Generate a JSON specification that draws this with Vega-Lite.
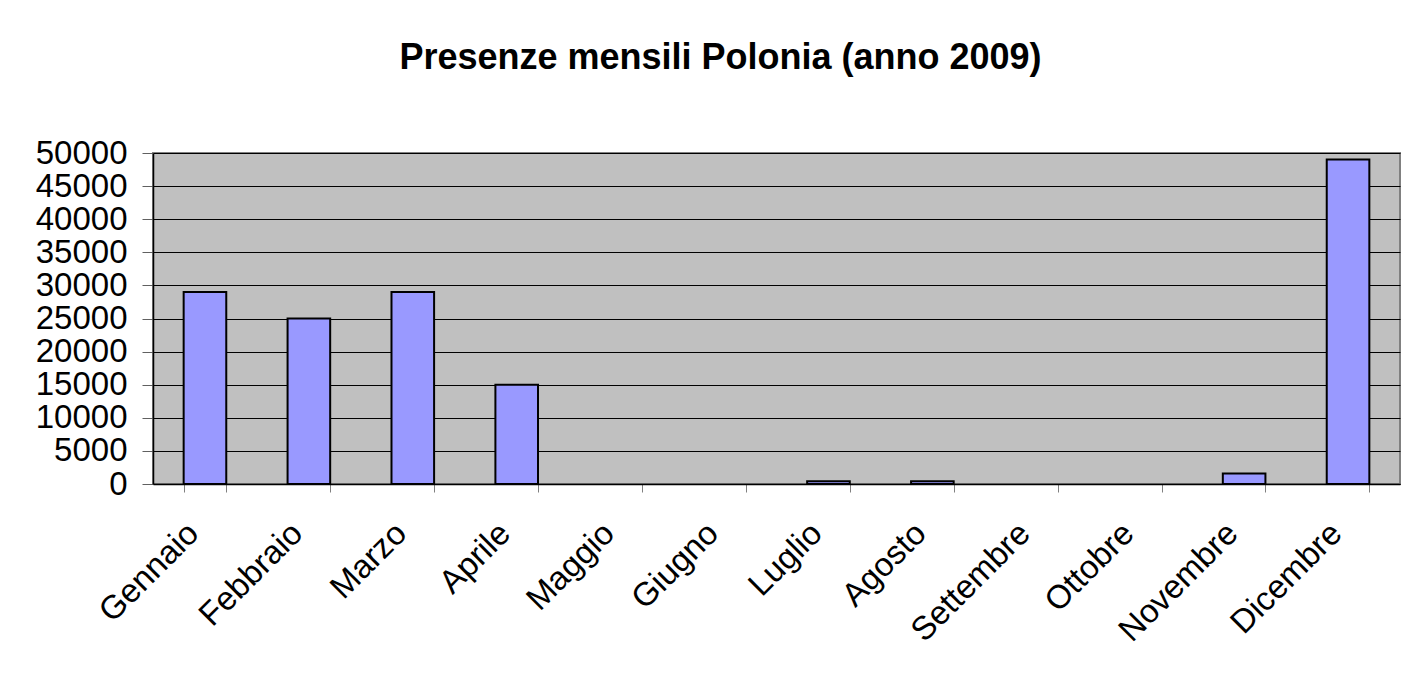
{
  "$schema": "https://vega.github.io/schema/vega-lite/v6.json",
  "autosize": "none",
  "width": 1247,
  "height": 331,
  "padding": {"left": 153, "top": 153, "right": 4, "bottom": 191},
  "background": "white",
  "title": {
    "text": "Presenze mensili Polonia (anno 2009)",
    "font": "Liberation Sans",
    "fontSize": 36,
    "fontWeight": "bold",
    "color": "black",
    "anchor": "middle",
    "baseline": "alphabetic",
    "offset": 32,
    "dx": -56
  },
  "data": {
    "values": [
      {"mese": "Gennaio", "presenze": 29000},
      {"mese": "Febbraio", "presenze": 25000},
      {"mese": "Marzo", "presenze": 29000},
      {"mese": "Aprile", "presenze": 15000},
      {"mese": "Maggio", "presenze": 0},
      {"mese": "Giugno", "presenze": 0},
      {"mese": "Luglio", "presenze": 400},
      {"mese": "Agosto", "presenze": 400},
      {"mese": "Settembre", "presenze": 0},
      {"mese": "Ottobre", "presenze": 0},
      {"mese": "Novembre", "presenze": 1600},
      {"mese": "Dicembre", "presenze": 49000}
    ]
  },
  "mark": {"type": "bar", "color": "#9999FF", "stroke": "black", "strokeWidth": 2},
  "encoding": {
    "x": {
      "field": "mese",
      "type": "nominal",
      "sort": null,
      "scale": {"paddingInner": 0.59, "paddingOuter": 0.295},
      "axis": {
        "title": null,
        "tickBand": "extent",
        "labelAngle": -45,
        "labelAlign": "right",
        "labelBaseline": "middle",
        "labelFont": "Liberation Sans",
        "labelFontSize": 33,
        "labelColor": "black",
        "labelPadding": 36,
        "labelOffset": -12,
        "tickSize": 8,
        "tickColor": "#808080",
        "domainColor": "black",
        "domainWidth": 1.5,
        "grid": false
      }
    },
    "y": {
      "field": "presenze",
      "type": "quantitative",
      "scale": {"domain": [0, 50000], "nice": false},
      "axis": {
        "title": null,
        "values": [0, 5000, 10000, 15000, 20000, 25000, 30000, 35000, 40000, 45000, 50000],
        "format": "d",
        "labelFont": "Liberation Sans",
        "labelFontSize": 33,
        "labelColor": "black",
        "labelPadding": 15,
        "tickSize": 11,
        "tickColor": "#606060",
        "domainColor": "black",
        "domainWidth": 1.5,
        "grid": true,
        "gridColor": "black",
        "gridWidth": 1,
        "gridOpacity": 1
      }
    },
    "strokeOpacity": {
      "condition": {"test": "datum.presenze > 0", "value": 1},
      "value": 0
    }
  },
  "config": {
    "view": {"fill": "#C0C0C0", "stroke": "#808080", "strokeWidth": 2}
  }
}
